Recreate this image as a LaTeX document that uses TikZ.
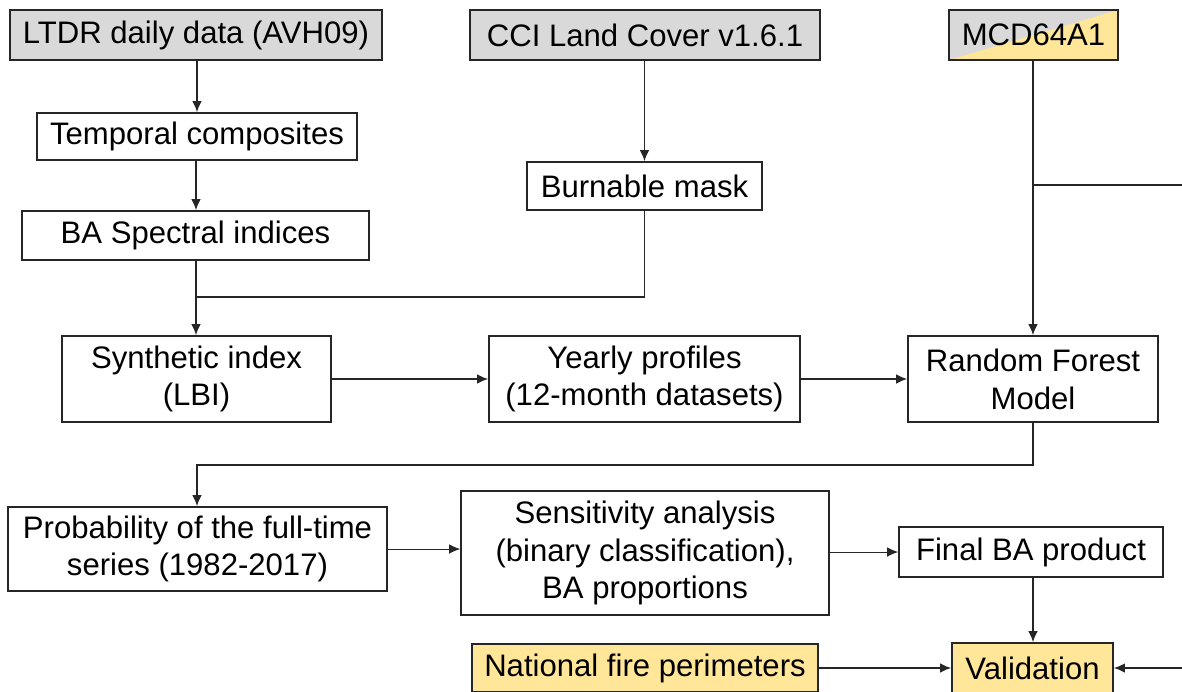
\documentclass[tikz,border=0pt]{standalone}
\usepackage{fontspec}
\setmainfont{Liberation Sans}
\usetikzlibrary{arrows.meta}
\definecolor{srcgray}{HTML}{D9D9D9}
\definecolor{valyellow}{HTML}{FFE699}
\definecolor{edge}{HTML}{262626}
\begin{document}
\begin{tikzpicture}[x=0.02cm,y=-0.02cm,
  box/.style={draw=edge, line width=0.9pt, fill=white, inner sep=0pt, align=center,
    font=\fontsize{17.7}{21.5}\selectfont},
  src/.style={box, fill=srcgray},
  ref/.style={box, fill=valyellow},
  link/.style={draw=edge, line width=0.9pt},
  flow/.style={link, -{Latex[length=2.2mm,width=1.9mm]}},
  thin/.style={draw=edge, line width=0.5pt, -{Latex[length=2.2mm,width=1.9mm]}}]
\useasboundingbox (0,0) rectangle (1182,691);
% input datasets
\node[src, minimum width=372*0.02cm, minimum height=50*0.02cm] (ltdr) at (196,35) {LTDR daily data (AVH09)};
\node[src, minimum width=350*0.02cm, minimum height=50*0.02cm] (cci) at (645,35) {CCI Land Cover v1.6.1};
\node[box, minimum width=169*0.02cm, minimum height=50*0.02cm,
  path picture={
    \fill[srcgray] (path picture bounding box.south west) rectangle (path picture bounding box.north east);
    \fill[valyellow] (path picture bounding box.south west) -- (path picture bounding box.north east) -- (path picture bounding box.south east) -- cycle;
  }] (mcd) at (1033.5,35) {MCD64A1};
% preprocessing
\node[box, minimum width=320*0.02cm, minimum height=47*0.02cm] (temp) at (197,136.5) {Temporal composites};
\node[box, minimum width=235*0.02cm, minimum height=48*0.02cm] (burn) at (644.5,186) {Burnable mask};
\node[box, minimum width=347*0.02cm, minimum height=49*0.02cm] (spec) at (195.5,235.5) {BA Spectral indices};
% modelling
\node[box, minimum width=269*0.02cm, minimum height=86*0.02cm] (synth) at (196.5,379) {Synthetic index\\(LBI)};
\node[box, minimum width=311*0.02cm, minimum height=86*0.02cm] (year) at (644.5,379) {Yearly profiles\\(12-month datasets)};
\node[box, minimum width=250*0.02cm, minimum height=86*0.02cm] (rf) at (1033,379) {Random Forest\\Model};
% outputs
\node[box, minimum width=379*0.02cm, minimum height=84*0.02cm] (prob) at (197.5,549) {Probability of the full-time\\series (1982-2017)};
\node[box, minimum width=368*0.02cm, minimum height=124*0.02cm] (sens) at (645,553) {Sensitivity analysis\\(binary classification),\\BA proportions};
\node[box, minimum width=264*0.02cm, minimum height=50*0.02cm] (final) at (1031,552) {Final BA product};
% validation
\node[ref, minimum width=346*0.02cm, minimum height=48*0.02cm] (nfp) at (645,668) {National fire perimeters};
\node[ref, minimum width=161*0.02cm, minimum height=50*0.02cm] (valid) at (1032.5,668) {Validation};
% junctions and free ends
\coordinate (join) at (196,297);
\coordinate (mcdsplit) at (1033,185);
\coordinate (edgetop) at (1182,185);
\coordinate (edgebot) at (1182,668);
\coordinate (rfdown) at (1033,465);
\coordinate (probtop) at (197,465);
% connectors
\draw[flow] (ltdr.south -| temp.north) -- (temp.north);
\draw[flow] (temp.south -| join) -- (spec.north -| join);
\draw[link] (spec.south -| join) -- (join);
\draw[flow] (join) -- (synth.north -| join);
\draw[link] (burn.south) -- (burn.south |- join) -- (join);
\draw[flow] (cci.south -| burn.north) -- (burn.north);
\draw[flow] (mcd.south -| mcdsplit) -- (rf.north -| mcdsplit);
\draw[link] (mcdsplit) -- (edgetop);
\draw[flow] (synth.east) -- (year.west);
\draw[flow] (year.east) -- (rf.west);
\draw[flow] (rf.south -| rfdown) -- (rfdown) -- (probtop) -- (prob.north -| probtop);
\draw[thin] (prob.east) -- (sens.west |- prob.east);
\draw[thin] (sens.east |- final.west) -- (final.west);
\draw[flow] (final.south -| mcdsplit) -- (valid.north -| mcdsplit);
\draw[flow] (nfp.east) -- (valid.west);
\draw[flow] (edgebot) -- (valid.east);
\end{tikzpicture}
\end{document}
